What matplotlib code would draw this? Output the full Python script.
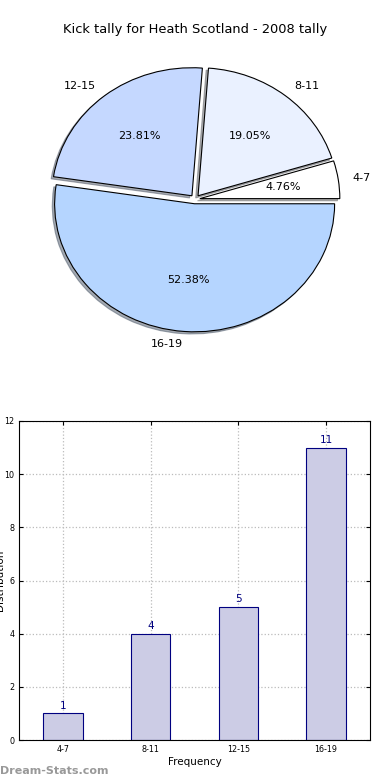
import matplotlib
matplotlib.use("Agg")
import matplotlib.pyplot as plt

# data
groups = ["4-7", "8-11", "12-15", "16-19"]
kicks = [1, 4, 5, 11]
pie_colors = ["#ffffff", "#eaf1ff", "#c5d8ff", "#b5d5ff"]

fig = plt.figure(figsize=(3.9, 7.8), dpi=100)

# pie on top
ax1 = fig.add_axes([0.0692, 0.5475, 0.8615, 0.394])
wedges, texts, autotexts = ax1.pie(
    kicks, labels=groups, colors=pie_colors, explode=[0.035] * len(kicks),
    autopct="%.2f%%", shadow=dict(ox=-0.012, oy=-0.012, shade=0.6), startangle=0,
    wedgeprops=dict(edgecolor="black", linewidth=0.8),
    textprops=dict(fontsize=8))
ax1.set_aspect("auto")
ax1.set_xlim(-1.2, 1.2)
ax1.set_ylim(-1.2, 1.2)
ax1.axis("off")
fig.text(0.5, 1 - 30 / 780, "Kick tally for Heath Scotland - 2008 tally",
         ha="center", va="center", fontsize=9.4)

# bars below
ax2 = fig.add_axes([19 / 390, 40 / 780, 351 / 390, 319 / 780])
pos = list(range(len(groups)))
ax2.bar(pos, kicks, width=0.45, color="#ccccE5", edgecolor="navy", linewidth=0.8, zorder=2)
for p, v in zip(pos, kicks):
    ax2.text(p, v + 0.1, str(v), ha="center", va="bottom", color="navy", fontsize=7.5)
ax2.set_xlim(-0.5, 3.5)
ax2.set_ylim(0, 12)
ax2.set_xticks(pos)
ax2.set_xticklabels(groups)
ax2.set_yticks(range(0, 13, 2))
ax2.tick_params(labelsize=5.8, direction="in", length=3, top=True, right=True)
ax2.grid(True, linestyle=":", color="#bbbbbb", linewidth=0.9, zorder=0)
ax2.set_xlabel("Frequency", fontsize=7.5, labelpad=2)
ax2.set_ylabel("Distribution", fontsize=7.5)
ax2.yaxis.set_label_coords(-0.04, 0.5)

fig.text(0.0, 9 / 780, "Dream-Stats.com", color="#999999", fontsize=8,
         fontweight="bold", ha="left", va="center")

fig.savefig("out.png", dpi=100)
